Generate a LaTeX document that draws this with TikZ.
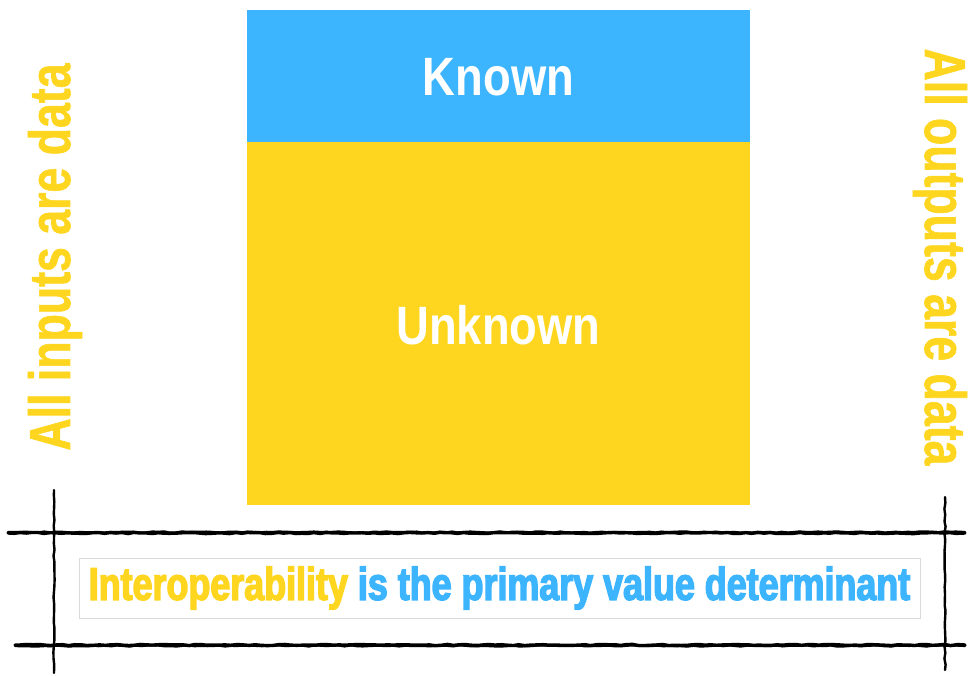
\documentclass[tikz,border=0pt]{standalone}
\usepackage{fontspec}
\setmainfont{Liberation Sans}
\newfontfamily\sidefont[FakeStretch=0.77,FakeBold=1]{Liberation Sans}
\newfontfamily\boxfont[FakeStretch=0.84]{Liberation Sans}
\newfontfamily\bannerfont[FakeStretch=0.78,FakeBold=3]{Liberation Sans}
\usetikzlibrary{positioning,decorations.pathmorphing}
\definecolor{Sky}{HTML}{3DB5FE}
\definecolor{Sun}{HTML}{FED61F}
\definecolor{Frame}{HTML}{DADADA}
\tikzset{
  boxlab/.style={text=white,font=\boxfont\bfseries\fontsize{54}{60}\selectfont},
  sidelab/.style={text=Sun,font=\sidefont\bfseries\fontsize{58}{64}\selectfont},
  sketch/.style={line width=3.4pt,draw=black,line cap=round,
    decorate,decoration={random steps,segment length=6pt,amplitude=.6pt}},
  banner/.style={draw=Frame,line width=.7pt,fill=white,minimum width=841pt,minimum height=60pt,inner sep=0pt,
    font=\bannerfont\bfseries\fontsize{46}{50}\selectfont}
}
\begin{document}
\begin{tikzpicture}[x=1pt,y=1pt]
  \useasboundingbox (0,0) rectangle (971,675);
  % known / unknown blocks
  \fill[Sun] (247,170) rectangle (750,533);
  \fill[Sky] (247,533) rectangle (750,665);
  \node[boxlab] (known) at (498.5,598) {Known};
  \node[boxlab] (unknown) at (498.5,350) {Unknown};
  % side labels
  \node[sidelab,rotate=90] (inputs) at (55,418) {All inputs are data};
  \node[sidelab,rotate=-90] (outputs) at (940,418) {All outputs are data};
  % sketched frame
  \coordinate (tl) at (8,142);
  \coordinate (tr) at (965,142);
  \coordinate (bl) at (15,30);
  \coordinate (br) at (965,30);
  \coordinate (lt) at (54,185);
  \coordinate (lb) at (54,2);
  \coordinate (rt) at (945,178);
  \coordinate (rb) at (945,5);
  \draw[sketch] (tl) -- (tr);
  \draw[sketch,line width=1.8pt] ([yshift=1.2pt]tl) -- ([yshift=1.2pt]tr);
  \draw[sketch] (bl) -- (br);
  \draw[sketch,line width=1.8pt] ([yshift=-1.2pt]bl) -- ([yshift=-1.2pt]br);
  \draw[sketch,line width=2.4pt] (lt) -- (lb);
  \draw[sketch,line width=2.4pt] (rt) -- (rb);
  % banner
  \node[banner] (value) at (499.5,87)
    {\textcolor{Sun}{Interoperability} \textcolor{Sky}{is the primary value determinant}};
\end{tikzpicture}
\end{document}
